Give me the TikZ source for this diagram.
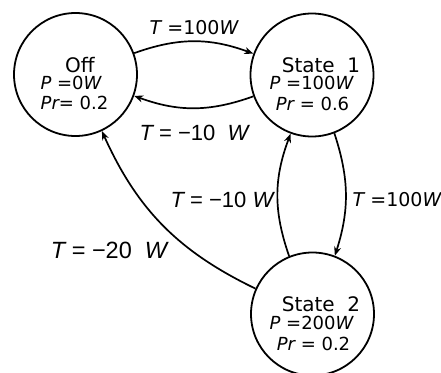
\documentclass[tikz,border=0pt]{standalone}
\usepackage{fontspec}
\setmainfont{DejaVu Sans}
\newfontfamily\lib{Liberation Sans}
\usetikzlibrary{arrows.meta}
\begin{document}
\begin{tikzpicture}[x=1pt,y=-1pt,
  st/.style={circle,draw,line width=1.8pt,minimum size=123pt,inner sep=0pt},
  ttl/.style={font=\fontsize{20}{22}\selectfont,anchor=base,inner sep=0pt},
  val/.style={font=\fontsize{18}{20}\selectfont,anchor=base,inner sep=0pt},
  arr/.style={line width=1.7pt,-{Stealth[length=9pt,width=7pt]}},
  labd/.style={font=\fontsize{19}{21}\selectfont,inner sep=0pt},
  labl/.style={font=\lib\fontsize{22}{24}\selectfont,inner sep=0pt}
]
\useasboundingbox (0,0) rectangle (441,372);
\node[st] (off) at (75.5,74.5) {};
\node[st] (s1) at (312,75) {};
\node[st] (s2) at (312.5,314) {};
% texts
\node[ttl] (offt) at (80,72) {Off};
\node[val] (offp) at (71,89) {{\itshape P} =0{\itshape W}};
\node[val] (offr) at (74.5,109) {{\itshape Pr}= 0.2};
\node[ttl] (s1t) at (321,72) {State\ \ 1};
\node[val] (s1p) at (311.5,89) {{\itshape P} =100{\itshape W}};
\node[val] (s1r) at (312.5,110) {{\itshape Pr} = 0.6};
\node[ttl] (s2t) at (321,311.5) {State\ \ 2};
\node[val] (s2p) at (311.5,329) {{\itshape P} =200{\itshape W}};
\node[val] (s2r) at (313.5,350) {{\itshape Pr} = 0.2};
% edges
\draw[arr] (off.20) to[bend left=20] (s1.160);
\draw[arr] (s1.200) to[bend left=20] (off.340);
\draw[arr] (s2.112) to[bend left=20] (s1.250);
\draw[arr] (s1.291) to[bend left=18] (s2.69);
\draw[arr] (s2.156) to[bend left=20] (off.295);
% labels
\node[labd] (l1) at (194,28) {{\itshape T} =100{\itshape W}};
\node[labl] (l2) at (194,133) {{\itshape T} = −10\ \ {\itshape W}};
\node[labl] (l3) at (222,200) {{\itshape T} = −10 {\itshape W}};
\node[labd] (l4) at (397,200) {{\itshape T} =100{\itshape W}};
\node[labl,font=\lib\fontsize{23.5}{25}\selectfont] (l5) at (109,250) {{\itshape T} = −20\ \ {\itshape W}};
\end{tikzpicture}
\end{document}
